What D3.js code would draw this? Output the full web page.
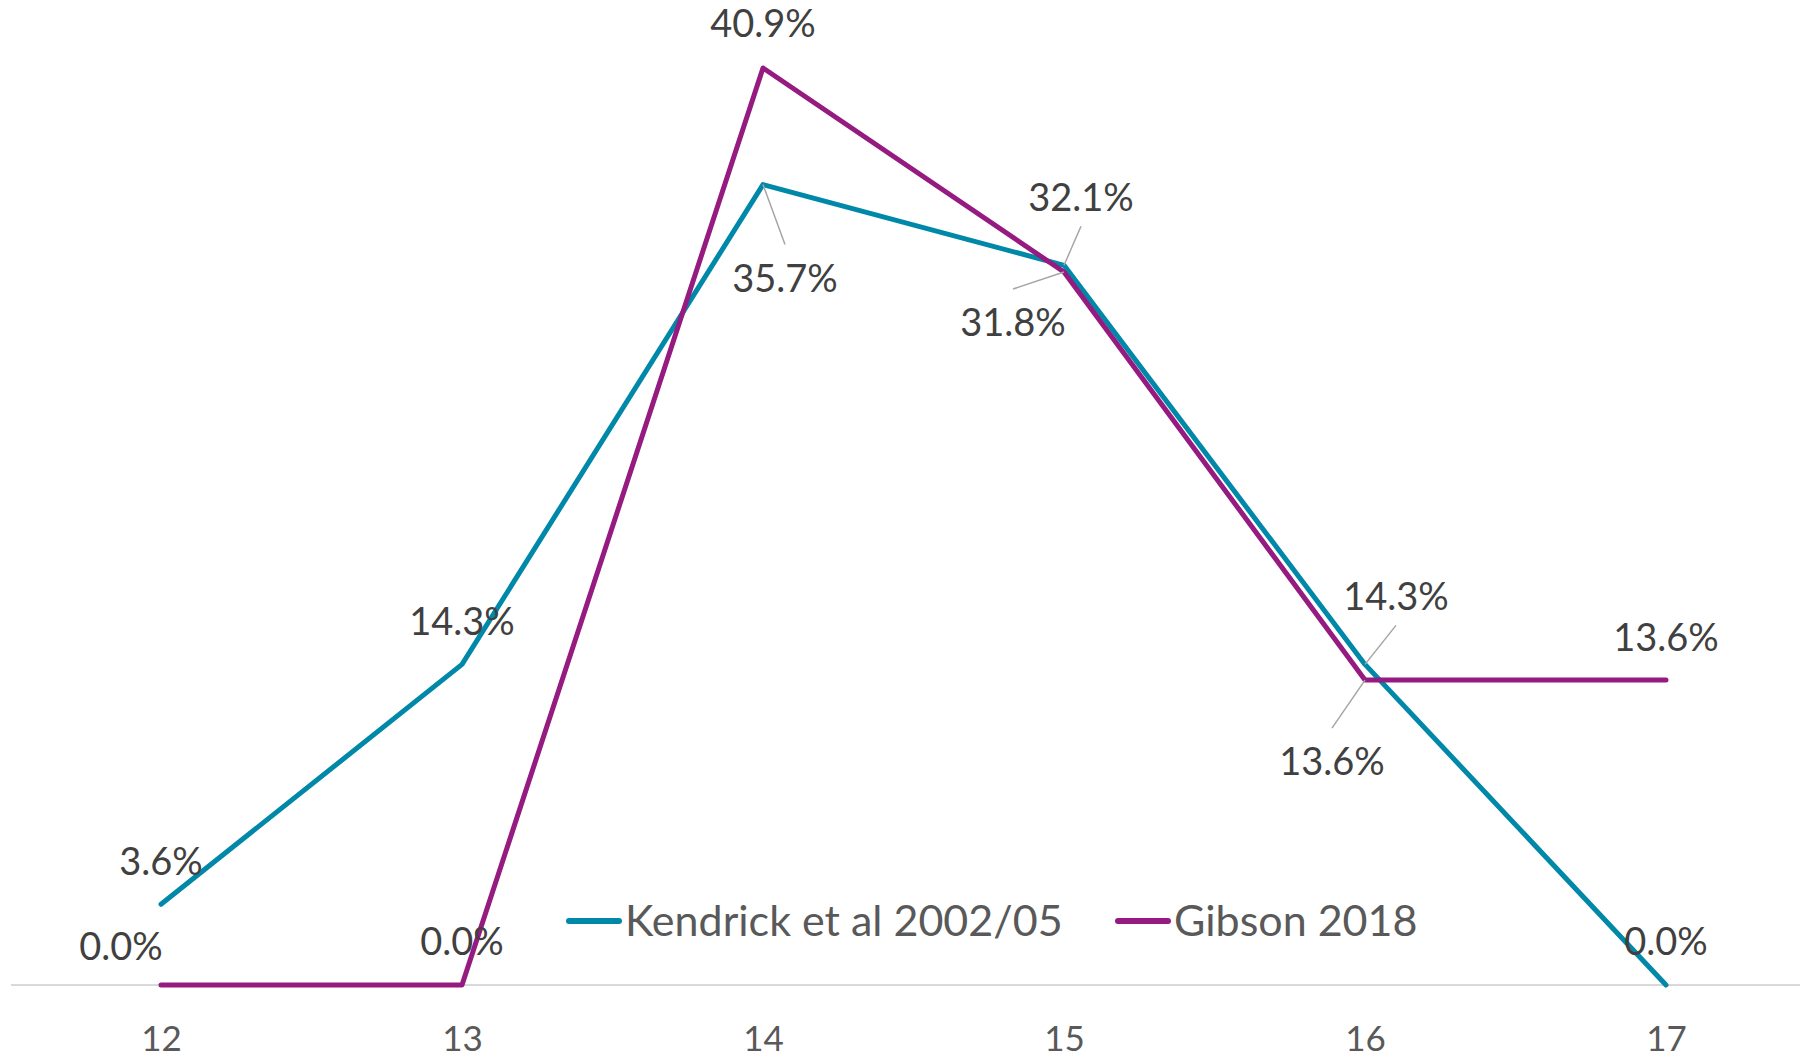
<!DOCTYPE html>
<html>
<head>
<meta charset="utf-8">
<script src="https://cdn.jsdelivr.net/npm/d3@7/dist/d3.min.js"></script>
<style>
	body { margin: 0; background: #fff; }
	svg { display: block; font-family: Lato, "Open Sans", sans-serif; }
</style>
</head>
<body>
<svg id="chart" width="1800" height="1060"></svg>
<script>
// data
var ages = ['12', '13', '14', '15', '16', '17'];
var kendrick = [0.036, 0.143, 0.357, 0.321, 0.143, 0.0];
var gibson = [0.0, 0.0, 0.409, 0.318, 0.136, 0.136];
var seriesNames = ['Kendrick et al 2002/05', 'Gibson 2018'];

// label offsets from each point [dx, dy, leader]
var kendrickLabelPos = [[0, -43], [0, -43], [22, 94, 1], [17, -68, 1], [31, -68, 1], [0, -43]];
var gibsonLabelPos = [[-40, -38], [0, -43], [0, -44], [-51, 51, 1], [-33, 82, 1], [0, -42]];

(function() {
	'use strict';

	var svg = d3.select('#chart');
	var colors = ['#0088a9', '#951b81'];

	var x = d3.scalePoint().domain(ages).range([161, 1666]);
	var y = d3.scaleLinear().domain([0, 0.409]).range([985, 68]);
	var fmt = d3.format('.1%');

	// baseline
	svg.append('line')
		.attr('x1', 11).attr('x2', 1800)
		.attr('y1', y(0)).attr('y2', y(0))
		.attr('stroke', '#d9d9d9')
		.attr('stroke-width', 2);

	// x axis
	var xAxis = svg.append('g')
		.attr('transform', 'translate(0,' + 1039 + ')')
		.call(d3.axisBottom(x).tickSize(0).tickPadding(0));
	xAxis.select('.domain').remove();
	xAxis.selectAll('text')
		.attr('dy', '0.35em')
		.attr('fill', '#595959')
		.style('font-size', '35px')
		.style('font-family', 'Lato, sans-serif');

	var line = d3.line()
		.x(function(d, i) { return x(ages[i]); })
		.y(function(d) { return y(d); });

	var all = [kendrick, gibson];
	var posAll = [kendrickLabelPos, gibsonLabelPos];

	all.forEach(function(s, k) {
		svg.append('path')
			.datum(s)
			.attr('d', line)
			.attr('fill', 'none')
			.attr('stroke', colors[k])
			.attr('stroke-width', 5)
			.attr('stroke-linejoin', 'round')
			.attr('stroke-linecap', 'round');
	});

	// labels + leader lines
	all.forEach(function(s, k) {
		var pos = posAll[k];
		var g = svg.append('g');
		s.forEach(function(v, i) {
			var px = x(ages[i]), py = y(v);
			var p = pos[i];
			var lx = px + p[0], ly = py + p[1];
			if (p[2]) {
				// leader from label edge toward point
				var ey = p[1] > 0 ? ly - 34 : ly + 29;
				g.append('line')
					.attr('x1', lx).attr('y1', ey)
					.attr('x2', px).attr('y2', py)
					.attr('stroke', '#a6a6a6')
					.attr('stroke-width', 1.5);
			}
			g.append('text')
				.attr('x', lx)
				.attr('y', ly)
				.attr('dy', '0.35em')
				.attr('text-anchor', 'middle')
				.attr('fill', '#404040')
				.style('font-size', '38px')
				.text(fmt(v));
		});
	});

	// legend
	var legendX = [569, 1118];
	var legend = svg.append('g');
	seriesNames.forEach(function(name, k) {
		legend.append('line')
			.attr('x1', legendX[k]).attr('x2', legendX[k] + 50)
			.attr('y1', 921).attr('y2', 921)
			.attr('stroke', colors[k])
			.attr('stroke-width', 6)
			.attr('stroke-linecap', 'round');
		legend.append('text')
			.attr('x', legendX[k] + 56)
			.attr('y', 921)
			.attr('dy', '0.35em')
			.attr('fill', '#595959')
			.style('font-size', '43px')
			.text(name);
	});
})();
</script>
</body>
</html>
